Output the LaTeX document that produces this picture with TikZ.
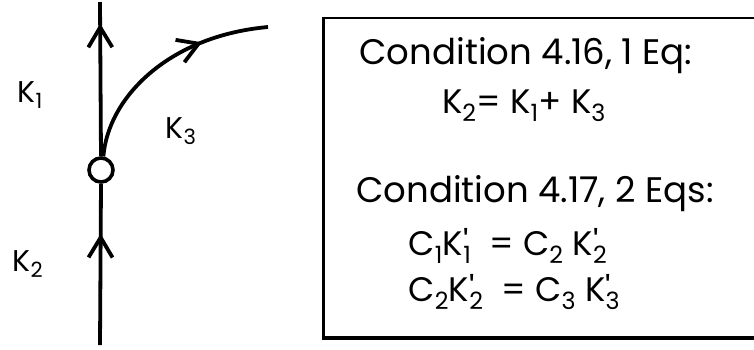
\documentclass[tikz,border=0pt]{standalone}
\usepackage{fontspec}
\setmainfont{Poppins}
\usetikzlibrary{arrows.meta,decorations.markings}

% K with a prime set over its index
\newcommand{\Kp}[1]{K\rlap{\textquotesingle}\textsubscript{#1}}

\begin{document}
\begin{tikzpicture}[x=1pt,y=-1pt,
  flow/.style={line width=3.8pt},
  midarrow/.style={postaction={decorate},decoration={markings,
    mark=at position #1 with {\arrow{Straight Barb[length=20pt,width=24pt,line width=3.8pt]}}}},
  junction/.style={circle,draw,fill=white,line width=3.6pt,minimum size=24pt,inner sep=0pt},
  lbl/.style={font=\fontsize{30}{32}\selectfont,anchor=base west},
  eqn/.style={font=\fontsize{34}{36}\selectfont,anchor=base},
  cond/.style={font=\fontsize{35.5}{38}\selectfont,anchor=base}]
\useasboundingbox (0,0) rectangle (754,349);
% node with the three branches
\coordinate (bot) at (100,345);
\coordinate (top) at (100,2);
\coordinate (k3end) at (268,27);
\node[junction] (jn) at (101,170) {};
\draw[flow,midarrow=0.69] (bot) -- (jn.south);
\draw[flow,midarrow=0.86] (jn.north) -- (top);
\draw[flow,midarrow=0.70] (jn.80) .. controls (108,98) and (168,36) .. (k3end);
\node[lbl] (k1) at (14,102) {K\textsubscript{1}};
\node[lbl] (k3) at (162,138) {K\textsubscript{3}};
\node[lbl] (k2) at (9,271) {K\textsubscript{2}};
% box with the conditions, open to the right
\draw[line width=2pt] (322,18) -- (770,18);
\draw[line width=3pt] (323,17) -- (323,339);
\draw[line width=3.5pt] (321.5,338) -- (770,338);
\node[cond] (c416) at (526,64) {Condition 4.16, 1 Eq:};
\node[eqn] (eq1) at (524,113) {K\textsubscript{2}= K\textsubscript{1}+ K\textsubscript{3}};
\node[cond] (c417) at (535,202) {Condition 4.17, 2 Eqs:};
\node[eqn,anchor=base west] (eq2) at (405,255) {C\textsubscript{1}\Kp{1}\ \ = C\textsubscript{2} \Kp{2}};
\node[eqn,anchor=base west] (eq3) at (405,301) {C\textsubscript{2}\Kp{2}\ \ = C\textsubscript{3} \Kp{3}};
\end{tikzpicture}
\end{document}
